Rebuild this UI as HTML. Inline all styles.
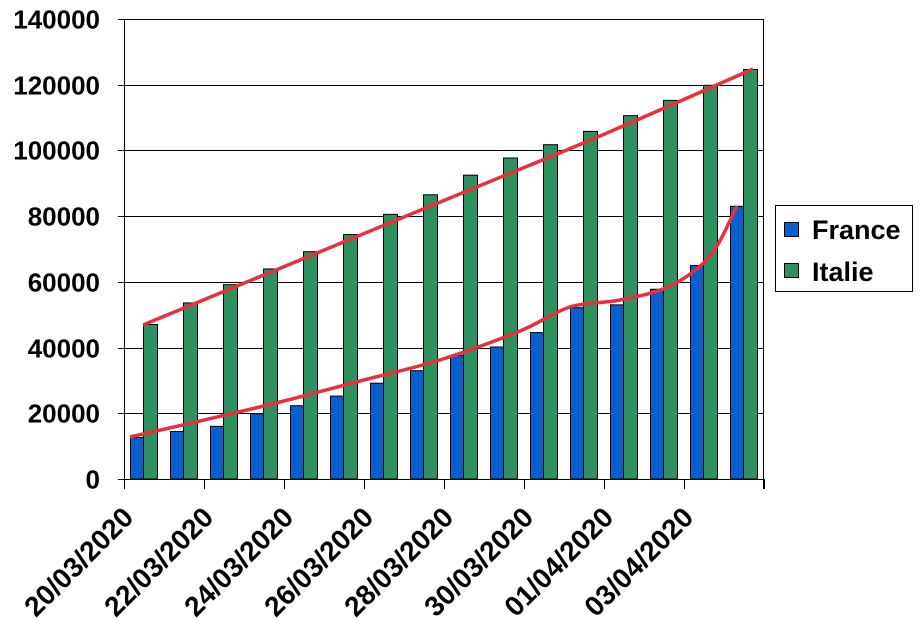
<!DOCTYPE html>
<html><head><meta charset="utf-8"><style>
html,body{margin:0;padding:0;background:#fff;}
svg{display:block;font-family:"Liberation Sans",Arial,sans-serif;font-weight:bold;}
</style></head><body>
<svg id="c" width="923" height="642" viewBox="0 0 923 642" xmlns="http://www.w3.org/2000/svg">
<rect x="0" y="0" width="923" height="642" fill="#fff"/>
<g id="grid" stroke="#000" stroke-width="1"></g>
<g id="bars" stroke="#000" stroke-width="1"></g>
<g id="lines"></g>
<g id="labels" font-size="28" fill="#000"></g>
<rect x="775.5" y="205.5" width="137" height="86" fill="#fff" stroke="#000"/>
<rect x="784.5" y="222.5" width="14" height="14" fill="#0a5fcf" stroke="#000"/>
<text x="812" y="239" font-size="27">France</text>
<rect x="784.5" y="263.5" width="14" height="14" fill="#2e9160" stroke="#000"/>
<text x="812" y="281" font-size="27">Italie</text>
</svg>
<script>
var NS="http://www.w3.org/2000/svg";
function el(p,t,a,txt){var e=document.createElementNS(NS,t);for(var k in a)e.setAttribute(k,a[k]);if(txt!=null)e.textContent=txt;document.getElementById(p).appendChild(e);return e;}
var x0=124,x1=763,yb=479,yt=19;
function Y(v){return yb-(v/140000)*(yb-yt);}
for(var i=0;i<=7;i++){var y=Math.round(Y(i*20000))+0.5;
 el("grid","line",{x1:x0-6,x2:x1,y1:y,y2:y});
 el("labels","text",{x:100,y:y+9,"text-anchor":"end","font-size":"26"},String(i*20000));}
el("grid","line",{x1:x0+0.5,x2:x0+0.5,y1:yt,y2:yb});
el("grid","line",{x1:x1+0.5,x2:x1+0.5,y1:yt,y2:yb+10});
for(var k=0;k<=8;k++){var x=x0+80*k+0.5;el("grid","line",{x1:x,x2:x,y1:yb,y2:yb+10});}
var fr=[12612,14459,16018,19856,22302,25233,29155,32964,37575,40174,44550,52128,53000,57749,65000,83000];
var it=[47021,53578,59138,63927,69176,74386,80539,86498,92472,97689,101739,105792,110574,115242,119827,124632];
for(var i=0;i<16;i++){var cx=x0+40*i;
 el("bars","rect",{x:cx+6.5,y:Y(fr[i]),width:13,height:yb-Y(fr[i]),fill:"#0a5fcf"});
 el("bars","rect",{x:cx+19.5,y:Y(it[i]),width:14,height:yb-Y(it[i]),fill:"#2e9160"});}
var pf=[[130,437],[200,421],[280,402],[360,381],[440,360],[520,331],[570,307],[620,300],[670,286],[710,256],[737,206]];
var pi=[[143,325],[450,198],[600,136],[753,69]];
var dates=["20/03/2020","22/03/2020","24/03/2020","26/03/2020","28/03/2020","30/03/2020","01/04/2020","03/04/2020"];
for(var k=0;k<8;k++){var x=x0+80*k+11,y=519;
 el("labels","text",{x:x,y:y,"text-anchor":"end",transform:"rotate(-45 "+x+" "+y+")"},dates[k]);}
function path(p){var d="M"+p[0][0]+","+p[0][1];
 for(var i=0;i<p.length-1;i++){var a=p[i-1]||p[i],b=p[i],c=p[i+1],e=p[i+2]||c;
  d+=" C"+(b[0]+(c[0]-a[0])/6)+","+(b[1]+(c[1]-a[1])/6)+" "+(c[0]-(e[0]-b[0])/6)+","+(c[1]-(e[1]-b[1])/6)+" "+c[0]+","+c[1];}
 return d;}
el("lines","path",{d:path(pf),fill:"none",stroke:"#e8303a","stroke-width":"3.5"});
el("lines","path",{d:path(pi),fill:"none",stroke:"#e8303a","stroke-width":"3.5"});
</script>
</body></html>
